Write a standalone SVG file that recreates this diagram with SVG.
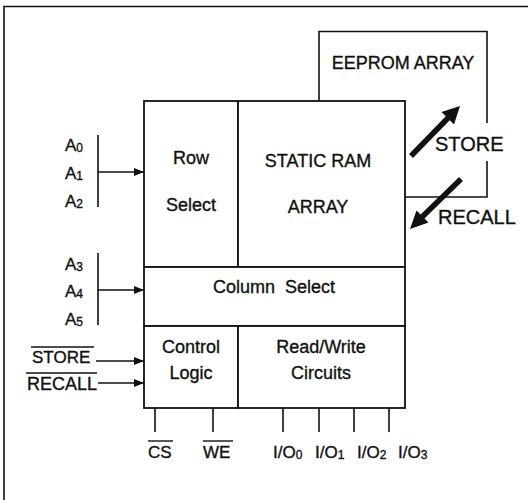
<svg xmlns="http://www.w3.org/2000/svg" width="528" height="500" viewBox="0 0 528 500">
<defs>
<marker id="ah" viewBox="0 0 10 8" refX="10" refY="4" markerWidth="10" markerHeight="8" markerUnits="userSpaceOnUse" orient="auto">
<path d="M0,0 L10,4 L0,8 Z" fill="#111"/>
</marker>
</defs>
<style>
text{font-family:"Liberation Sans",Arial,sans-serif;fill:#111;stroke:#111;stroke-width:0.35}
.box{fill:#fff;stroke:#111;stroke-width:1.8}
.ln{fill:none;stroke:#111;stroke-width:1.6}
.t18{font-size:18px;text-anchor:middle}
.big{font-size:20px}
.lab{font-size:17px}
.sub{font-size:12px}
.ov{stroke:#111;stroke-width:1.4}
</style>
<rect width="528" height="500" fill="#fff"/>
<path class="ln" d="M4,503 L4,6.5 L530,6.5"/>

<g id="eeprom">
<path class="ln" d="M319,101 L319,31.5 L487,31.5 L487,123 M487,161 L487,197 L405,197"/>
<text class="t18" x="403" y="69">EEPROM ARRAY</text>
</g>

<g id="row-select">
<rect class="box" x="144" y="101" width="94" height="166"/>
<text class="t18" x="191" y="164">Row</text>
<text class="t18" x="191" y="211">Select</text>
</g>
<g id="sram">
<rect class="box" x="238" y="101" width="167" height="166"/>
<text class="t18" x="318" y="167">STATIC RAM</text>
<text class="t18" x="318" y="213">ARRAY</text>
</g>
<g id="column-select">
<rect class="box" x="144" y="267" width="261" height="59"/>
<text class="t18" x="274" y="293" word-spacing="5">Column Select</text>
</g>
<g id="control-logic">
<rect class="box" x="144" y="326" width="94" height="82"/>
<text class="t18" x="191" y="353">Control</text>
<text class="t18" x="191" y="379">Logic</text>
</g>
<g id="read-write">
<rect class="box" x="238" y="326" width="167" height="82"/>
<text class="t18" x="321" y="353">Read/Write</text>
<text class="t18" x="321" y="379">Circuits</text>
</g>

<g id="addr-row">
<text class="lab" x="65" y="151">A<tspan class="sub" dy="1">0</tspan></text>
<text class="lab" x="65" y="179">A<tspan class="sub" dy="1">1</tspan></text>
<text class="lab" x="65" y="207">A<tspan class="sub" dy="1">2</tspan></text>
</g>
<g id="addr-col">
<text class="lab" x="65" y="270">A<tspan class="sub" dy="1">3</tspan></text>
<text class="lab" x="65" y="297">A<tspan class="sub" dy="1">4</tspan></text>
<text class="lab" x="65" y="325">A<tspan class="sub" dy="1">5</tspan></text>
</g>
<g id="ctrl-inputs">
<text x="32" y="363" style="font-size:17px">STORE</text>
<line class="ov" x1="31" y1="347" x2="94" y2="347"/>
<text x="27" y="390" style="font-size:18px">RECALL</text>
<line class="ov" x1="26" y1="373" x2="97" y2="373"/>
</g>
<g id="pins">
<text class="lab" x="148" y="458">CS</text>
<line class="ov" x1="148" y1="441" x2="173" y2="441"/>
<text class="lab" x="203" y="458">WE</text>
<line class="ov" x1="203" y1="441" x2="233" y2="441"/>
<text class="lab" x="273" y="458">I/O<tspan class="sub" dy="1">0</tspan></text>
<text class="lab" x="315" y="458">I/O<tspan class="sub" dy="1">1</tspan></text>
<text class="lab" x="357" y="458">I/O<tspan class="sub" dy="1">2</tspan></text>
<text class="lab" x="398" y="458">I/O<tspan class="sub" dy="1">3</tspan></text>
</g>

<g id="connectors">
<path class="ln" d="M98,135 L98,207 M98,253 L98,325"/>
<line class="ln" x1="98" y1="172" x2="144" y2="172" marker-end="url(#ah)"/>
<line class="ln" x1="98" y1="290" x2="144" y2="290" marker-end="url(#ah)"/>
<line class="ln" x1="96" y1="361" x2="144" y2="361" marker-end="url(#ah)"/>
<line class="ln" x1="98" y1="383" x2="144" y2="383" marker-end="url(#ah)"/>
<path class="ln" d="M155,408 V432 M213,408 V432 M283,408 V432 M319,408 V432 M354,408 V432 M389,408 V432"/>
<g id="store-arrow">
<line x1="411" y1="156" x2="448" y2="118" stroke="#111" stroke-width="5.5"/>
<polygon points="460,106 454,124.5 441.5,112" fill="#111"/>
<text class="big" x="435" y="151">STORE</text>
</g>
<g id="recall-arrow">
<line x1="461" y1="179" x2="422" y2="217" stroke="#111" stroke-width="5.5"/>
<polygon points="410,229 428.5,222.5 416.5,210.5" fill="#111"/>
<text class="big" x="438" y="224">RECALL</text>
</g>
</g>
</svg>
